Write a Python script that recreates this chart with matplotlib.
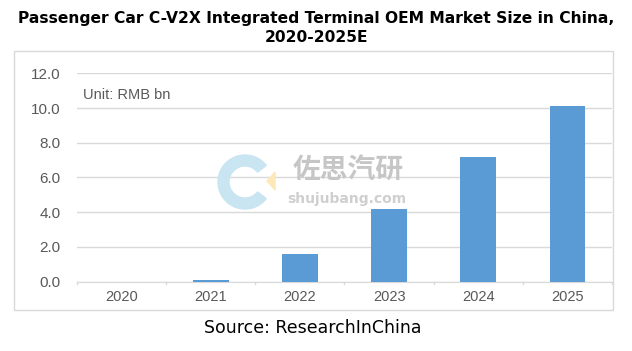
import matplotlib
matplotlib.use("Agg")
import matplotlib.pyplot as plt
from matplotlib.patches import Rectangle, Wedge, Polygon

years = ["2020", "2021", "2022", "2023", "2024", "2025"]
values = [0.0, 0.1, 1.6, 4.15, 7.2, 10.1]
yticks = [0, 2, 4, 6, 8, 10, 12]

W, H = 632, 351
fig = plt.figure(figsize=(W / 100, H / 100), dpi=100)

def fx(px):
    return px / W

def fy(py):
    return 1 - py / H

def ix(px):
    return px / 100

def iy(py):
    return (H - py) / 100

# outer frame
fig.patches.append(Rectangle((fx(14), fy(310)), fx(613) - fx(14), fy(51.5) - fy(310),
                             transform=fig.transFigure, fill=False, edgecolor="#d9d9d9", lw=1.0))

ax = fig.add_axes([fx(77), fy(281.5), fx(612) - fx(77), fy(73.3) - fy(281.5)])
x = list(range(len(years)))
ax.bar(x, values, width=0.4, color="#5b9bd5", zorder=3)
ax.set_xlim(-0.5, len(years) - 0.5)
ax.set_ylim(0, 12)
ax.set_yticks(yticks)
ax.set_yticklabels([f"{v:.1f}" for v in yticks], fontsize=11, color="#595959",
                   family="Liberation Sans")
ax.set_xticks(x)
ax.set_xticklabels(years, fontsize=10.5, color="#595959", family="Liberation Sans")
ax.tick_params(axis="y", length=0, pad=12)
ax.tick_params(axis="x", length=0, pad=6)
ax.grid(axis="y", color="#d9d9d9", lw=1.0, zorder=0)
for s in ["top", "right", "left"]:
    ax.spines[s].set_visible(False)
ax.spines["bottom"].set_color("#d9d9d9")
for b in range(len(years) + 1):
    ax.plot([b - 0.5, b - 0.5], [0, -0.12], color="#d9d9d9", lw=1, clip_on=False, zorder=2)

ax.text(0.012, 0.895, "Unit: RMB bn", transform=ax.transAxes, fontsize=10.5,
        color="#595959", family="Liberation Sans", va="center", ha="left")

# watermark
cx, cy, r = 245, 182, 27
fig.patches.append(Wedge((ix(cx), iy(cy)), r / 100, 38, 322, width=11 / 100,
                         transform=fig.dpi_scale_trans, color="#c9e5f2", zorder=1))
fig.patches.append(Polygon([(ix(275), iy(172)), (ix(275), iy(190)), (ix(267), iy(181))],
                           closed=True, transform=fig.dpi_scale_trans, color="#fde9b8", zorder=1))
fig.text(fx(348), fy(170), "佐思汽研", fontsize=20, color="#c6c6c6", ha="center", va="center",
         family=["Noto Sans CJK SC", "DejaVu Sans"], fontweight="bold")
fig.text(fx(347), fy(199), "shujubang.com", fontsize=10, color="#cfcfcf", ha="center",
         va="center", family="DejaVu Sans", fontweight="bold")

fig.text(0.5, fy(19), "Passenger Car C-V2X Integrated Terminal OEM Market Size in China,",
         ha="center", va="center", fontsize=11.2, fontweight="bold", family="DejaVu Sans")
fig.text(0.5, fy(37), "2020-2025E", ha="center", va="center", fontsize=11.2,
         fontweight="bold", family="DejaVu Sans")
fig.text(fx(313), fy(328), "Source: ResearchInChina", ha="center", va="center",
         fontsize=12.5, family="DejaVu Sans")

fig.savefig("out.png", dpi=100)
